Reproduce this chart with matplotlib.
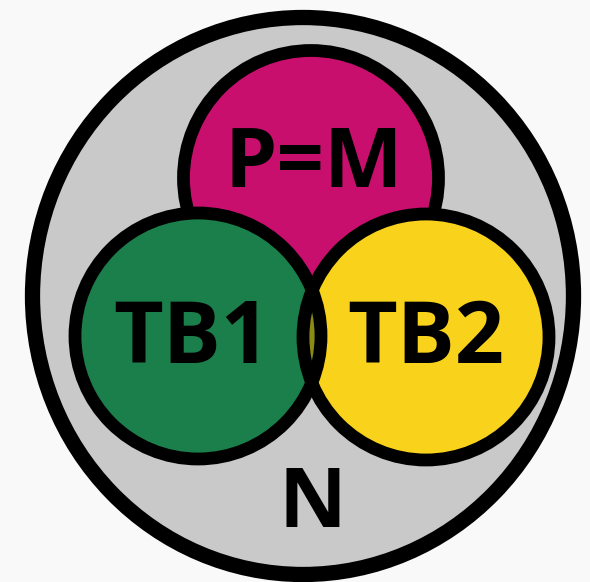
"""Diagrama de conjuntos: N contiene P=M, TB1 y TB2."""
import matplotlib
matplotlib.use("Agg")
import matplotlib.pyplot as plt
from matplotlib.patches import Circle, Ellipse

# conjuntos
etiquetas = ["P=M", "TB1", "TB2"]
colores = ["#c80f6e", "#1b7f4b", "#f9d31b"]
centros = [(311, 178), (198, 336), (426, 337)]
radios = [127.5, 123, 123]
base_texto = [187, 363, 363]
tam_texto = [60, 62, 62]

universo = "N"
color_universo = "#c9c9c9"
color_cruce = "#8b8a14"

fig = plt.figure(figsize=(5.9, 5.82), dpi=100)
fig.patch.set_facecolor("#f9f9f9")
ax = fig.add_axes([0, 0, 1, 1])
ax.set_xlim(0, 590)
ax.set_ylim(582, 0)
ax.axis("off")

lw_ext = 11.0
lw = 9.2

# universo
ax.add_patch(Ellipse((303, 296), 2 * 270.5, 2 * 278.5, facecolor=color_universo,
                     edgecolor="black", lw=lw_ext, zorder=1))
ax.text(312, 527, universo, ha="center", va="baseline", fontsize=60,
        fontweight="bold", family="Open Sans", zorder=10)

# P=M detras
ax.add_patch(Circle(centros[0], radios[0], facecolor=colores[0],
                    edgecolor="black", lw=lw, zorder=2))

# TB1 y TB2 rellenos
for c, r, col in zip(centros[1:], radios[1:], colores[1:]):
    ax.add_patch(Circle(c, r, facecolor=col, edgecolor="none", zorder=3))

# interseccion TB1 ∩ TB2
clip = Circle(centros[1], radios[1], transform=ax.transData)
cruce = Circle(centros[2], radios[2], facecolor=color_cruce, edgecolor="none", zorder=4)
ax.add_patch(cruce)
cruce.set_clip_path(clip)

# bordes
for c, r in zip(centros[1:], radios[1:]):
    ax.add_patch(Circle(c, r, facecolor="none", edgecolor="black", lw=lw, zorder=5))

desplaz = [3, -6, 0]
for (cx, _), dx, y, txt, fs in zip(centros, desplaz, base_texto, etiquetas, tam_texto):
    ax.text(cx + dx, y, txt, ha="center", va="baseline",
            fontsize=fs, fontweight="bold", family="Open Sans", zorder=10)

fig.savefig("out.png", dpi=100, facecolor=fig.get_facecolor())
plt.close(fig)
